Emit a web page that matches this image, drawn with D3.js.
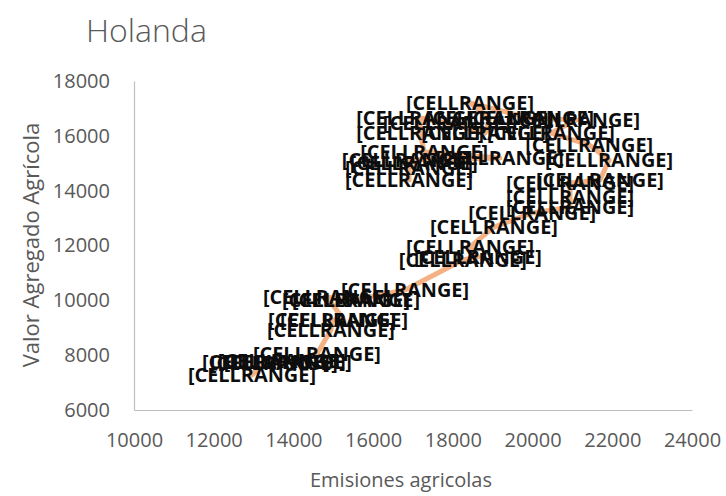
<!DOCTYPE html>
<html>
<head>
<meta charset="utf-8">
<script src="https://cdn.jsdelivr.net/npm/d3@7"></script>
<style>
  html, body { margin: 0; padding: 0; background: #ffffff; }
  svg { display: block; }
</style>
</head>
<body>
<svg id="chart" width="726" height="496"></svg>
<script>
// Emisiones agrícolas (x) frente a valor agregado agrícola (y), en orden cronológico
const emisiones = [
  12960, 13310, 13510, 13710, 13860, 14590,
  14940, 14970, 15270, 14840, 15320, 15570, 16800,
  18250, 18630, 18430, 19030, 19990, 20940, 20940, 20940, 21690, 21920, 21420,
  20460, 21090, 19940, 18430, 18930, 18810, 17850, 17180, 17180, 17280,
  19180, 16820, 17020, 16900, 16900
];
const valorAgregado = [
  7280, 7750, 7710, 7790, 7750, 8040,
  8920, 9280, 9280, 10120, 10010, 10010, 10380,
  11470, 11580, 11950, 12670, 13190, 13400, 13770, 14280, 14390, 15120, 15670,
  16100, 16580, 16650, 17200, 16650, 16100, 16470, 16650, 16100, 15410,
  15190, 15120, 15010, 14830, 14390
];
const etiquetas = emisiones.map(() => "[CELLRANGE]");

const xTicks = [10000, 12000, 14000, 16000, 18000, 20000, 22000, 24000];
const yTicks = [6000, 8000, 10000, 12000, 14000, 16000, 18000];

const titulo = "Holanda";
const tituloX = "Emisiones agricolas";
const tituloY = "Valor Agregado Agrícola";

const svg = d3.select("#chart");
const plot = { left: 134, right: 692, top: 81, bottom: 410 };

const x = d3.scaleLinear().domain([10000, 24000]).range([plot.left, plot.right]);
const y = d3.scaleLinear().domain([6000, 18000]).range([plot.bottom, plot.top]);

const font = "'Open Sans', 'Noto Sans', sans-serif";
const grey = "#595959";

// Title
svg.append("text")
  .attr("x", 86).attr("y", 42)
  .attr("font-family", font).attr("font-size", 32).attr("font-weight", 300)
  .attr("fill", grey)
  .text(titulo);

// Axes
const xAxis = svg.append("g")
  .attr("transform", `translate(0,${plot.bottom})`)
  .call(d3.axisBottom(x).tickValues(xTicks).tickSize(0).tickPadding(22).tickFormat(d3.format("d")));
const yAxis = svg.append("g")
  .attr("transform", `translate(${plot.left},0)`)
  .call(d3.axisLeft(y).tickValues(yTicks).tickSize(0).tickPadding(24).tickFormat(d3.format("d")));

[xAxis, yAxis].forEach(g => {
  g.select(".domain").attr("stroke", "#bfbfbf").attr("stroke-width", 1.2);
  g.selectAll("text")
    .attr("font-family", font).attr("font-size", 20).attr("fill", grey);
});
xAxis.selectAll("text").attr("dy", "0.35em").attr("y", 30);

// Axis titles
svg.append("text")
  .attr("x", 401).attr("y", 487)
  .attr("text-anchor", "middle")
  .attr("font-family", font).attr("font-size", 20).attr("fill", grey)
  .text(tituloX);
svg.append("text")
  .attr("transform", "translate(39,245) rotate(-90)")
  .attr("text-anchor", "middle")
  .attr("font-family", font).attr("font-size", 22).attr("fill", grey)
  .text(tituloY);

// Series line
const data = emisiones.map((e, i) => ({ e, v: valorAgregado[i], label: etiquetas[i] }));
const line = d3.line().x(d => x(d.e)).y(d => y(d.v)).curve(d3.curveLinear);
svg.append("path")
  .datum(data)
  .attr("d", line)
  .attr("fill", "none")
  .attr("stroke", "#f4b183")
  .attr("stroke-width", 5)
  .attr("stroke-linejoin", "round")
  .attr("stroke-linecap", "round");

// Data labels centred on each point
svg.append("g")
  .selectAll("text")
  .data(data)
  .join("text")
  .attr("x", d => x(d.e))
  .attr("y", d => y(d.v))
  .attr("dy", "0.35em")
  .attr("text-anchor", "middle")
  .attr("font-family", font).attr("font-size", 19).attr("font-weight", 700)
  .attr("textLength", 128).attr("lengthAdjust", "spacingAndGlyphs")
  .attr("fill", "#0d0d0d")
  .text(d => d.label);
</script>
</body>
</html>
